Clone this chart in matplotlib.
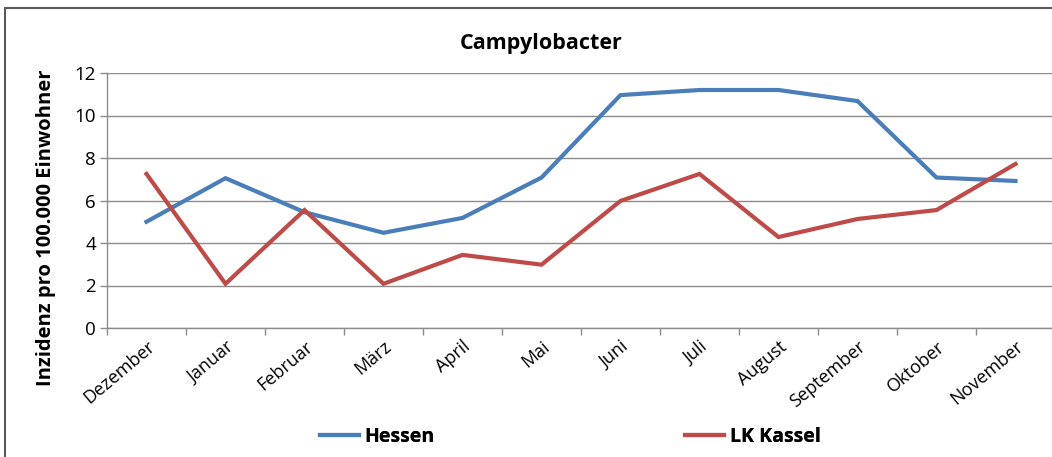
import matplotlib

matplotlib.use("Agg")
import matplotlib.pyplot as plt
from matplotlib.patches import Rectangle
from matplotlib.lines import Line2D

months = ["Dezember", "Januar", "Februar", "März", "April", "Mai", "Juni",
          "Juli", "August", "September", "Oktober", "November"]
hessen = [5.0, 7.05, 5.45, 4.48, 5.18, 7.08, 10.96, 11.2, 11.2, 10.68, 7.08, 6.92]
kassel = [7.25, 2.08, 5.55, 2.08, 3.44, 2.98, 5.98, 7.25, 4.28, 5.13, 5.55, 7.72]
yticks = [0, 2, 4, 6, 8, 10, 12]

BLUE = "#4A7EBB"
RED = "#BE4B48"
GRID = "#8C8C8C"

plt.rcParams["font.family"] = ["Open Sans", "DejaVu Sans"]

fig = plt.figure(figsize=(10.52, 4.57), dpi=100)
ax = fig.add_axes([107 / 1052, 1 - 328 / 457, 948 / 1052, 255 / 457])

x = list(range(len(months)))
ax.plot(x, hessen, color=BLUE, lw=3, solid_joinstyle="miter", label="Hessen")
ax.plot(x, kassel, color=RED, lw=3, solid_joinstyle="miter", label="LK Kassel")

ax.set_xlim(-0.5, len(months) - 0.5)
ax.set_ylim(0, 12)
ax.set_yticks(yticks)
ax.yaxis.grid(True, color=GRID, lw=1)
ax.set_axisbelow(True)

# category ticks at boundaries, labels at centres
ax.set_xticks([i - 0.5 for i in range(len(months) + 1)])
ax.set_xticklabels([])
ax.set_xticks(x, minor=True)
ax.set_xticklabels(months, minor=True, rotation=40, ha="right", rotation_mode="anchor",
                   fontsize=13)
ax.tick_params(axis="x", which="minor", length=0, pad=7)
ax.tick_params(axis="x", which="major", length=5, color=GRID, width=1)
ax.tick_params(axis="y", length=5, color=GRID, width=1, labelsize=13.5, pad=3)

for s in ["top", "right"]:
    ax.spines[s].set_visible(False)
for s in ["left", "bottom"]:
    ax.spines[s].set_color(GRID)
    ax.spines[s].set_linewidth(1)

ax.set_ylabel("Inzidenz pro 100.000 Einwohner", fontsize=14.5, fontweight="bold")
ax.yaxis.set_label_coords((56 - 107) / 948, (328 - 228) / 255)
fig.text(541 / 1052, 1 - 44 / 457, "Campylobacter", ha="center", va="center",
         fontsize=15.5, fontweight="bold")

# legend entries placed separately, as in the original layout
for color, name, xpos in [(BLUE, "Hessen", 312), (RED, "LK Kassel", 677)]:
    leg = fig.legend([Line2D([], [], color=color, lw=3)], [name], loc="center left",
                     bbox_to_anchor=(xpos / 1052, 1 - 437 / 457), frameon=False,
                     handlelength=2.0, handletextpad=0.3, borderaxespad=0,
                     prop={"weight": "bold", "size": 14})
    fig.add_artist(leg)

# outer chart frame
fig.patches.append(Rectangle((5 / 1052, -0.01), 1.1, 1 - 8 / 457 + 0.01, transform=fig.transFigure,
                             fill=False, edgecolor="#595959", lw=1.5))

fig.savefig("out.png", dpi=100)
